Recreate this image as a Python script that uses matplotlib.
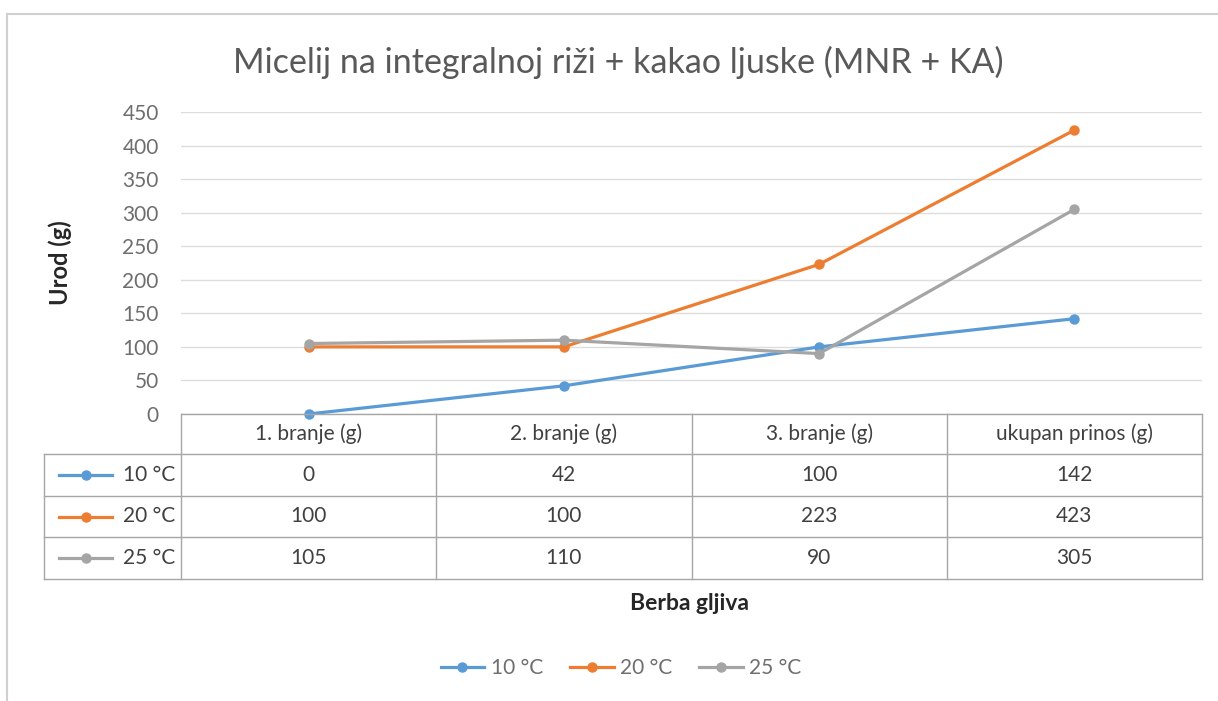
import matplotlib
matplotlib.use("Agg")
import matplotlib.pyplot as plt
from matplotlib.lines import Line2D

plt.rcParams['font.family'] = ['Lato', 'DejaVu Sans']

categories = ['1. branje (g)', '2. branje (g)', '3. branje (g)', 'ukupan prinos (g)']
series_names = ['10 °C', '20 °C', '25 °C']
t10 = [0, 42, 100, 142]
t20 = [100, 100, 223, 423]
t25 = [105, 110, 90, 305]
values = [t10, t20, t25]
colors = ['#5B9BD5', '#ED7D31', '#A5A5A5']
yticks = [0, 50, 100, 150, 200, 250, 300, 350, 400, 450]

W, H = 1218, 701
fig = plt.figure(figsize=(W / 100, H / 100), dpi=100)

def fx(x):
    return x / W

def fy(y):
    return 1 - y / H

# frame of the chart area
fig.add_artist(Line2D([fx(7), fx(W + 5)], [fy(14), fy(14)], color='#D0D0D0', lw=1.5))
fig.add_artist(Line2D([fx(7), fx(7)], [fy(14), fy(H + 5)], color='#D0D0D0', lw=1.5))

left, right, top, bottom = 181, 1202, 112, 414
ax = fig.add_axes([fx(left), fy(bottom), fx(right - left), (bottom - top) / H])

lw, ms = 2.3, 6.5
x = list(range(len(categories)))
for vals, c, name in zip(values, colors, series_names):
    ax.plot(x, vals, color=c, lw=lw, marker='o', ms=ms, label=name, zorder=3, clip_on=False)

ax.set_xlim(-0.5, len(categories) - 0.5)
ax.set_ylim(0, 450)
ax.set_yticks(yticks)
ax.set_xticks([])
ax.grid(axis='y', color='#DDDDDD', lw=1)
ax.set_axisbelow(True)
for s in ax.spines.values():
    s.set_visible(False)
ax.tick_params(axis='y', length=0, pad=16, labelsize=15, labelcolor='#6E6E6E')
ax.set_ylabel('Urod (g)', fontsize=17, fontweight='bold', color='#262626', labelpad=36)

fig.text(0.5 * (fx(232) + fx(1005)), fy(62), 'Micelij na integralnoj riži + kakao ljuske (MNR + KA)',
         ha='center', va='center', fontsize=24.5, color='#595959')

# data table under the plot
grid_c = '#A6A6A6'
txt_c = '#404040'
col_w = (right - left) / len(categories)
row_y = [414, 454, 496, 537, 579]
tab_left = 44
for i, yy in enumerate(row_y):
    x0 = left if i == 0 else tab_left
    fig.add_artist(Line2D([fx(x0), fx(right)], [fy(yy), fy(yy)], color=grid_c, lw=1))
fig.add_artist(Line2D([fx(tab_left), fx(tab_left)], [fy(row_y[1]), fy(row_y[-1])], color=grid_c, lw=1))
for j in range(len(categories) + 1):
    xx = left + j * col_w
    fig.add_artist(Line2D([fx(xx), fx(xx)], [fy(row_y[0]), fy(row_y[-1])], color=grid_c, lw=1))

for j, cat in enumerate(categories):
    cx = left + (j + 0.5) * col_w
    fig.text(fx(cx), fy((row_y[0] + row_y[1]) / 2), cat, ha='center', va='center',
             fontsize=15, color=txt_c)
    for i, vals in enumerate(values):
        cy = (row_y[i + 1] + row_y[i + 2]) / 2
        fig.text(fx(cx), fy(cy), str(vals[j]), ha='center', va='center',
                 fontsize=15, color=txt_c)

for i, (name, c) in enumerate(zip(series_names, colors)):
    cy = (row_y[i + 1] + row_y[i + 2]) / 2
    fig.add_artist(Line2D([fx(59), fx(112)], [fy(cy), fy(cy)], color=c, lw=lw))
    fig.add_artist(Line2D([fx(86)], [fy(cy)], color=c, marker='o', ms=ms, ls='none'))
    fig.text(fx(175), fy(cy), name, ha='right', va='center', fontsize=15, color=txt_c)

fig.text(fx(690), fy(603), 'Berba gljiva', ha='center', va='center',
         fontsize=16.5, fontweight='bold', color='#262626')

handles, labels = ax.get_legend_handles_labels()
leg = fig.legend(handles, labels, loc='center', bbox_to_anchor=(fx(621), fy(668)), ncol=3,
                 frameon=False, fontsize=15, handlelength=2.1, columnspacing=1.3, handletextpad=0.3)
for t in leg.get_texts():
    t.set_color('#6E6E6E')

fig.savefig('out.png', dpi=100)
